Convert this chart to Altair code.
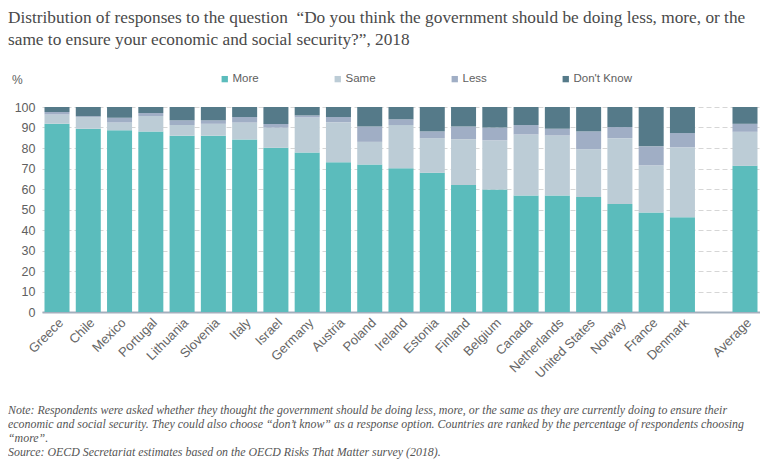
import altair as alt
import pandas as pd

countries = ["Greece", "Chile", "Mexico", "Portugal", "Lithuania", "Slovenia", "Italy",
             "Israel", "Germany", "Austria", "Poland", "Ireland", "Estonia", "Finland",
             "Belgium", "Canada", "Netherlands", "United States", "Norway", "France",
             "Denmark", "Average"]
more = [91.8, 89.4, 88.7, 88.1, 86.0, 86.0, 84.2, 80.1, 77.8, 73.1, 71.9, 70.1, 67.9,
        62.0, 59.7, 56.8, 56.8, 56.1, 52.7, 48.5, 46.2, 71.3]
same = [4.6, 5.7, 3.8, 7.5, 5.2, 5.8, 8.2, 9.8, 17.1, 19.4, 11.1, 21.1, 16.9,
        22.3, 24.0, 29.8, 29.3, 23.3, 32.1, 23.0, 34.1, 16.6]
less = [1.2, 0.4, 2.3, 1.5, 2.3, 1.7, 2.7, 1.8, 1.0, 2.6, 7.5, 2.8, 3.3,
        6.2, 6.3, 4.6, 3.3, 8.7, 5.4, 9.3, 7.0, 3.9]
dont_know = [2.4, 4.5, 5.2, 2.9, 6.5, 6.5, 4.9, 8.3, 4.1, 4.9, 9.5, 6.0, 11.9,
             9.5, 10.0, 8.8, 10.6, 11.9, 9.8, 19.2, 12.7, 8.2]
responses = ["More", "Same", "Less", "Don't Know"]
colors = ["#5BBCBC", "#BCCCD6", "#A0AEC5", "#557A89"]
y_ticks = list(range(0, 101, 10))

title_lines = [
    "Distribution of responses to the question \u00a0\u201cDo you think the government should be doing less, more, or the",
    "same to ensure your economic and social security?\u201d, 2018",
]
note_lines = [
    "Note: Respondents were asked whether they thought the government should be doing less, more, or the same as they are currently doing to ensure their",
    "economic and social security. They could also choose \u201cdon\u2019t know\u201d as a response option. Countries are ranked by the percentage of respondents choosing",
    "\u201cmore\u201d.",
    "Source: OECD Secretariat estimates based on the OECD Risks That Matter survey (2018).",
]

rows = []
for i, c in enumerate(countries):
    for k, (r, vals) in enumerate(zip(responses, [more, same, less, dont_know])):
        rows.append({"country": c, "response": r, "value": vals[i], "order": k})
df = pd.DataFrame(rows)

x_domain = countries[:-1] + [" "] + ["Average"]

bars = alt.Chart(df).mark_bar().encode(
    x=alt.X("country:N", sort=x_domain,
            scale=alt.Scale(domain=x_domain, paddingInner=0.2, paddingOuter=0.08),
            axis=alt.Axis(title=None, labelAngle=-45, labelAlign="right", labelBaseline="top",
                          labelFontSize=13, labelColor="#666666", labelFont="Liberation Sans",
                          labelPadding=4, ticks=False, domainColor="#A3AFBD", domainWidth=2,
                          grid=False)),
    y=alt.Y("value:Q", stack="zero", scale=alt.Scale(domain=[0, 100], nice=False),
            axis=alt.Axis(title=None, values=y_ticks, domain=False, ticks=False, grid=True,
                          gridDash=[5, 3], gridColor="#D6D6D6", labelFontSize=12.5,
                          labelColor="#606060", labelFont="Liberation Sans", labelPadding=7)),
    color=alt.Color("response:N", scale=alt.Scale(domain=responses, range=colors),
                    legend=alt.Legend(title=None, orient="none", legendX=177, legendY=-34,
                                      direction="horizontal", symbolType="square",
                                      symbolSize=40, symbolStrokeWidth=0, labelFontSize=11.5,
                                      labelColor="#606060", labelFont="Liberation Sans",
                                      columnPadding=73, labelOffset=2)),
    order=alt.Order("order:Q"),
)


def text_layer(s, x, y, size, font, color, italic=False):
    kw = dict(align="left", baseline="middle", font=font, fontSize=size, color=color)
    if italic:
        kw["fontStyle"] = "italic"
    return alt.Chart(pd.DataFrame({"t": [s]})).mark_text(**kw).encode(
        x=alt.value(x), y=alt.value(y), text="t:N")


layers = [bars]
layers.append(text_layer(title_lines[0], -34, -89, 17.3, "Liberation Serif", "#4a4a4a"))
layers.append(text_layer(title_lines[1], -34, -67, 17.3, "Liberation Serif", "#4a4a4a"))
layers.append(text_layer("%", -30, -27, 12, "Liberation Sans", "#606060"))
note_y = [303, 317, 331, 345]
for line, yy in zip(note_lines, note_y):
    layers.append(text_layer(line, -34, yy, 11.9, "Liberation Serif", "#555555", italic=True))

chart = alt.layer(*layers).properties(
    width=718, height=205,
    autosize=alt.AutoSizeParams(type="none"),
    padding={"left": 34, "top": 99, "right": 0, "bottom": 147},
).configure_view(stroke=None)

chart.save("out.html", embed_options={"renderer": "svg", "actions": False})
